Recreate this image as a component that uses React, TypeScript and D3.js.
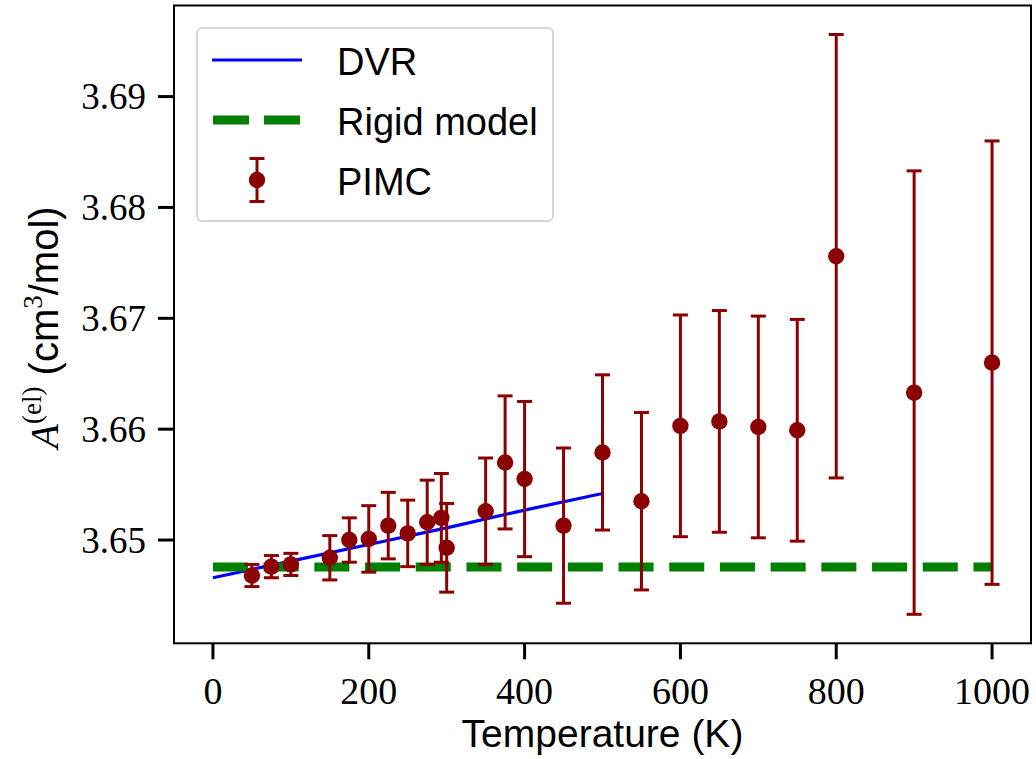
import { useRef, useEffect } from "react";
import * as d3 from "d3";

// PIMC temperatures (K), values and error bars (cm^3/mol)
const pimcTemps = [50, 75, 100, 150, 175, 200, 225, 250, 275, 293.15, 300, 350, 375, 400, 450, 500, 550, 600, 650, 700, 750, 800, 900, 1000];
const pimcValues = [3.6468, 3.6476, 3.6478, 3.6484, 3.65, 3.6501, 3.6513, 3.6506, 3.6516, 3.652, 3.6493, 3.6526, 3.657, 3.6555, 3.6513, 3.6579, 3.6535, 3.6603, 3.6607, 3.6602, 3.6599, 3.6756, 3.6633, 3.666];
const pimcErrors = [0.001, 0.001, 0.001, 0.002, 0.002, 0.003, 0.003, 0.003, 0.0038, 0.004, 0.004, 0.0048, 0.006, 0.007, 0.007, 0.007, 0.008, 0.01, 0.01, 0.01, 0.01, 0.02, 0.02, 0.02];

// DVR curve
const dvrTemps = [0, 100, 200, 300, 400, 500];
const dvrValues = [3.6466, 3.6481, 3.6496, 3.6511, 3.6527, 3.6542];

// rigid model (constant)
const rigidTemps = [0, 1000];
const rigidValue = 3.64756;

const xTicks = [0, 200, 400, 600, 800, 1000];
const yTicks = [3.65, 3.66, 3.67, 3.68, 3.69];

const legendLabels = ["DVR", "Rigid model", "PIMC"];

const W = 1036;
const H = 759;
const left = 174, right = 1031, top = 5.5, bottom = 643.3;

const SANS = "'Liberation Sans', Arial, sans-serif";
const SERIF = "'Liberation Serif', 'Times New Roman', serif";

const App = () => {
  const ref = useRef(null);

  const draw = () => {
    const svg = d3.select(ref.current);
    svg.selectAll("*").remove();

    // matplotlib style 5% margins
    const xPad = (d3.max(pimcTemps) - 0) * 0.05;
    const lo = d3.min(pimcValues.map((v, i) => v - pimcErrors[i]));
    const hi = d3.max(pimcValues.map((v, i) => v + pimcErrors[i]));
    const yPad = (hi - lo) * 0.05;

    const x = d3.scaleLinear().domain([0 - xPad, 1000 + xPad]).range([left, right]);
    const y = d3.scaleLinear().domain([lo - yPad, hi + yPad]).range([bottom, top]);

    svg.append("rect").attr("width", W).attr("height", H).attr("fill", "white");

    const plot = svg.append("g");

    // DVR
    const line = d3.line().x((d) => x(d[0])).y((d) => y(d[1]));
    plot
      .append("path")
      .attr("d", line(dvrTemps.map((t, i) => [t, dvrValues[i]])))
      .attr("fill", "none")
      .attr("stroke", "#0000ff")
      .attr("stroke-width", 3.2);

    // rigid model
    plot
      .append("path")
      .attr("d", line(rigidTemps.map((t) => [t, rigidValue])))
      .attr("fill", "none")
      .attr("stroke", "#008000")
      .attr("stroke-width", 9)
      .attr("stroke-dasharray", "35,15.7");

    // PIMC error bars
    const pts = pimcTemps.map((t, i) => ({ t, v: pimcValues[i], e: pimcErrors[i] }));
    const eb = plot.selectAll(".eb").data(pts).enter().append("g").attr("class", "eb");
    eb.append("line")
      .attr("x1", (d) => x(d.t))
      .attr("x2", (d) => x(d.t))
      .attr("y1", (d) => y(d.v - d.e))
      .attr("y2", (d) => y(d.v + d.e))
      .attr("stroke", "#8b0000")
      .attr("stroke-width", 3);
    [-1, 1].forEach((s) => {
      eb.append("line")
        .attr("x1", (d) => x(d.t) - 7.5)
        .attr("x2", (d) => x(d.t) + 7.5)
        .attr("y1", (d) => y(d.v + s * d.e))
        .attr("y2", (d) => y(d.v + s * d.e))
        .attr("stroke", "#8b0000")
        .attr("stroke-width", 3);
    });
    eb.append("circle")
      .attr("cx", (d) => x(d.t))
      .attr("cy", (d) => y(d.v))
      .attr("r", 8.2)
      .attr("fill", "#8b0000");

    // frame
    svg
      .append("rect")
      .attr("x", left)
      .attr("y", top)
      .attr("width", right - left)
      .attr("height", bottom - top)
      .attr("fill", "none")
      .attr("stroke", "black")
      .attr("stroke-width", 2);

    // x ticks
    const xt = svg.selectAll(".xt").data(xTicks).enter().append("g");
    xt.append("line")
      .attr("x1", (d) => x(d))
      .attr("x2", (d) => x(d))
      .attr("y1", bottom)
      .attr("y2", bottom + 16)
      .attr("stroke", "black")
      .attr("stroke-width", 3);
    xt.append("text")
      .attr("x", (d) => x(d))
      .attr("y", 704)
      .attr("text-anchor", "middle")
      .attr("font-family", SERIF)
      .attr("font-size", 38)
      .text((d) => d);

    // y ticks
    const yt = svg.selectAll(".yt").data(yTicks).enter().append("g");
    yt.append("line")
      .attr("x1", left - 16)
      .attr("x2", left)
      .attr("y1", (d) => y(d))
      .attr("y2", (d) => y(d))
      .attr("stroke", "black")
      .attr("stroke-width", 3);
    yt.append("text")
      .attr("x", 146)
      .attr("y", (d) => y(d))
      .attr("dy", "0.34em")
      .attr("text-anchor", "end")
      .attr("font-family", SERIF)
      .attr("font-size", 37)
      .text((d) => d.toFixed(2));

    // axis labels
    svg
      .append("text")
      .attr("x", (left + right) / 2)
      .attr("y", 747)
      .attr("text-anchor", "middle")
      .attr("font-family", SANS)
      .attr("font-size", 39)
      .text("Temperature (K)");

    const yl = svg
      .append("text")
      .attr("transform", `translate(58, ${(top + bottom) / 2 + 3}) rotate(-90)`)
      .attr("text-anchor", "middle")
      .attr("font-size", 40);
    yl.append("tspan").attr("font-family", SERIF).attr("font-style", "italic").text("A");
    yl.append("tspan").attr("font-family", SERIF).attr("font-size", 27).attr("dy", -17).text("(el)");
    yl.append("tspan").attr("font-family", SANS).attr("dy", 17).text("\u00a0(cm");
    yl.append("tspan").attr("font-family", SERIF).attr("font-size", 27).attr("dy", -16).text("3");
    yl.append("tspan").attr("font-family", SANS).attr("dy", 16).text("/mol)");

    // legend
    const lg = svg.append("g");
    lg.append("rect")
      .attr("x", 197)
      .attr("y", 28)
      .attr("width", 356)
      .attr("height", 193)
      .attr("rx", 5)
      .attr("fill", "white")
      .attr("fill-opacity", 0.8)
      .attr("stroke", "#d6d6d6")
      .attr("stroke-width", 2);
    const rowY = [60, 120, 180];
    lg.append("line")
      .attr("x1", 212).attr("x2", 302)
      .attr("y1", rowY[0]).attr("y2", rowY[0])
      .attr("stroke", "#0000ff").attr("stroke-width", 3.2);
    lg.append("line")
      .attr("x1", 213).attr("x2", 301)
      .attr("y1", rowY[1]).attr("y2", rowY[1])
      .attr("stroke", "#008000").attr("stroke-width", 9)
      .attr("stroke-dasharray", "36,15");
    lg.append("line")
      .attr("x1", 257).attr("x2", 257)
      .attr("y1", rowY[2] - 21.5).attr("y2", rowY[2] + 21.5)
      .attr("stroke", "#8b0000").attr("stroke-width", 3);
    [-21.5, 21.5].forEach((o) => {
      lg.append("line")
        .attr("x1", 249.5).attr("x2", 264.5)
        .attr("y1", rowY[2] + o).attr("y2", rowY[2] + o)
        .attr("stroke", "#8b0000").attr("stroke-width", 3);
    });
    lg.append("circle").attr("cx", 257).attr("cy", rowY[2]).attr("r", 8.2).attr("fill", "#8b0000");
    lg.selectAll(".lt")
      .data(legendLabels)
      .enter()
      .append("text")
      .attr("x", 337)
      .attr("y", (d, i) => rowY[i] + 15)
      .attr("font-family", SANS)
      .attr("font-size", 38)
      .text((d) => d);
  };

  useEffect(() => {
    draw();
  }, []);

  return (
    <svg
      ref={ref}
      width={W}
      height={H}
      style={{ position: "absolute", left: 0, top: 0 }}
    ></svg>
  );
};

export default App;
